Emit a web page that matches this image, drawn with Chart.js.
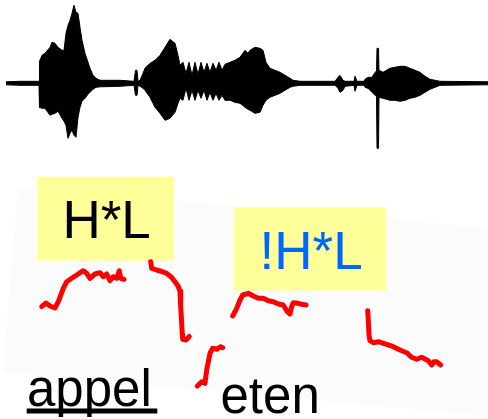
<!DOCTYPE html>
<html>
<head>
<meta charset="utf-8">
<script src="https://cdn.jsdelivr.net/npm/chart.js@4.4.1/dist/chart.umd.min.js"></script>
<style>
html,body{margin:0;padding:0;background:#fff;}
#wrap{width:488px;height:419px;position:relative;}
</style>
</head>
<body>
<div id="wrap"><canvas id="c"></canvas></div>
<script>
// ---- Waveform envelope (time units, amplitude relative to the zero line) ----
const waveTime = [6,20,39,39.5,42,45,50,52,55,58,62,64,66,68,70,72,74,76,78,80,82,85,88,90,93,96,100,120,134,135.5,137,138,140,143,145,150,155,160,165,170,175,178,180,183,186,189,192,195,198,201,204,207,210,213,216,219,222,225,230,235,240,245,248,250,255,260,263,266,270,275,280,285,290,293,300,335,338,340,343,345,354,355,357,364,365,368,372,375,376.5,377,378.5,379,383,390,395,400,405,410,415,420,425,430,435,440,488];
const waveTop  = [1.5,2,2,22,28,30,36,41,40,36,33,33,50,58,63,70,78,71,70,56,43,30,21,15,8,5,3,3,2,13,13,2,3,10,15,20,23,28,36,44,40,28,18,21,10,21,8,21,9,21,11,20,11,20,13,21,13,19,21,23,26,33,30,33,36,35,33,21,15,13,11,8,5,3,2,2,6,8,3,2,2,7,2,2,4,6,6,11,12,35,35,13,11,15,16,17,17,15,13,11,7,4,3,2,1.5];
const waveBottom = [-1.5,-2,-2,-24,-25,-25,-32,-31,-30,-28,-35,-38,-42,-55,-50,-47,-52,-54,-34,-24,-18,-15,-11,-9,-6,-4,-3.5,-3,-2,-12,-12,-2,-3,-5,-7,-14,-24,-30,-37,-35,-29,-20,-15,-17,-5,-17,-7,-17,-7,-15,-7,-17,-9,-17,-10,-17,-12,-17,-17,-19,-20,-24,-26,-27,-30,-29,-22,-17,-14,-12,-10,-7,-4,-3,-2,-2,-5,-9,-7,-3,-2,-8,-2,-2,-4,-5,-9,-12,-13,-65,-65,-14,-15,-17,-17,-18,-17,-15,-14,-12,-9,-6,-4,-2,-1.5];

// ---- Pitch contour segments (time, pitch units) ----
const pitchAppel1 = [[41.7,112.3],[46,116],[50,113],[55,111],[58.3,117.3],[63.3,130.7],[66.7,137.3],[71.7,140.7],[76.7,144],[83.3,148.3],[86.7,145.7],[90,140.7],[95,145],[100,146.3],[103.3,142.3],[106.7,145],[110,138.3],[113.3,142.3],[116.7,140.7],[119.3,148.3],[120.7,140.7],[124,139.7]];
const pitchAppel2 = [[150.7,157.3],[151.7,150.7],[156.7,149],[162,147.5],[166.7,145.7],[171.7,141.5],[175,137.3],[178,133],[180,128],[180.7,112.3],[181.7,95.7],[182.3,84],[182.7,79.7],[186,79],[189.3,82.5]];
const pitchEten1 = [[197.3,33],[201.7,37.3],[205,35.7],[206.7,49],[208.3,57],[210,65.7],[212.7,70.7],[216.7,69.7],[220.7,72.3],[222.7,71.3]];
const pitchEten2 = [[232.7,103],[236.7,110.7],[240,119],[242.7,124],[248.3,125.7],[253.3,123],[258.3,120.7],[263.3,120.7],[268.3,118.3],[273.3,117.3],[278.3,115],[283.3,114],[287.3,107.3],[290,105],[291.7,112.3],[293.3,116.3],[298.3,115.7],[301.7,114.7],[306,114]];
const pitchEten3 = [[367.7,108.3],[368.3,99],[369,84],[370,78.3],[373.3,76.3],[378.3,77.3],[386.7,74.7],[393.3,72.3],[400,69],[406.7,66.3],[411.7,61.7],[416.7,59.7],[421.7,61.7],[428.3,58.3],[431.7,54],[434,57.3],[436.7,57.3],[440.7,54]];

// ---- Labels ----
const toneLabels = ["H*L", "!H*L"];
const wordLabels = ["appel", "eten"];

const toXY = arr => arr.map(p => ({x: p[0], y: p[1]}));
const wavePts = (ys) => waveTime.map((t, i) => ({x: t, y: ys[i]}));

const redLine = (pts) => ({
  data: toXY(pts), yAxisID: 'yp', showLine: true, pointRadius: 0,
  borderColor: '#ff0000', borderWidth: 5, borderCapStyle: 'round', borderJoinStyle: 'round',
  fill: false, tension: 0, order: 1
});

// annotation layout (in data units of x / pitch axes)
const boxes = [
  {x0: 37.3, x1: 174, p0: 242.3, p1: 158.3, text: toneLabels[0], color: '#000000'},
  {x0: 234, x1: 386.3, p0: 211.7, p1: 128.3, text: toneLabels[1], color: '#0066ff'}
];
const words = [
  {x: 27, p: 13.3, text: wordLabels[0], underline: [26.7, 157.3, 5.5]},
  {x: 220.5, p: 6.3, text: wordLabels[1]}
];
const sheet = [[18,232],[488,191],[488,3],[3,47]];

const FONT = "'Liberation Sans', Arial, Helvetica, sans-serif";

const overlay = {
  id: 'overlay',
  beforeDatasetsDraw(chart) {
    const {ctx, scales: {x, yp}} = chart;
    ctx.save();
    ctx.fillStyle = '#fbfbfb';
    ctx.beginPath();
    sheet.forEach((p, i) => {
      const px = x.getPixelForValue(p[0]), py = yp.getPixelForValue(p[1]);
      i ? ctx.lineTo(px, py) : ctx.moveTo(px, py);
    });
    ctx.closePath();
    ctx.fill();
    boxes.forEach(b => {
      const l = x.getPixelForValue(b.x0), r = x.getPixelForValue(b.x1);
      const t = yp.getPixelForValue(b.p0), btm = yp.getPixelForValue(b.p1);
      ctx.fillStyle = '#ffff99';
      ctx.fillRect(l, t, r - l, btm - t);
    });
    ctx.restore();
  },
  afterDatasetsDraw(chart) {
    const {ctx, scales: {x, yp}} = chart;
    ctx.save();
    boxes.forEach(b => {
      const cx = (x.getPixelForValue(b.x0) + x.getPixelForValue(b.x1)) / 2;
      const cy = (yp.getPixelForValue(b.p0) + yp.getPixelForValue(b.p1)) / 2;
      ctx.font = '53px ' + FONT;
      ctx.fillStyle = b.color;
      ctx.textAlign = 'center';
      ctx.textBaseline = 'alphabetic';
      ctx.fillText(b.text, cx + 1, cy + 19.5);
    });
    words.forEach(w => {
      ctx.font = '51px ' + FONT;
      ctx.fillStyle = '#000';
      ctx.textAlign = 'left';
      ctx.textBaseline = 'alphabetic';
      const bx = x.getPixelForValue(w.x), by = yp.getPixelForValue(w.p);
      ctx.fillText(w.text, bx, by);
      if (w.underline) {
        const ul = x.getPixelForValue(w.underline[0]), ur = x.getPixelForValue(w.underline[1]);
        ctx.fillRect(ul, yp.getPixelForValue(w.underline[2]) - 5, ur - ul, 5);
      }
    });
    ctx.restore();
  }
};

new Chart(document.getElementById('c'), {
  type: 'scatter',
  data: {
    datasets: [
      {data: wavePts(waveTop), yAxisID: 'yw', showLine: true, pointRadius: 0, borderColor: '#000', borderWidth: 1, backgroundColor: '#000', fill: '+1', tension: 0, order: 2},
      {data: wavePts(waveBottom), yAxisID: 'yw', showLine: true, pointRadius: 0, borderColor: '#000', borderWidth: 1, fill: false, tension: 0, order: 2},
      redLine(pitchAppel1),
      redLine(pitchAppel2),
      redLine(pitchEten1),
      redLine(pitchEten2),
      redLine(pitchEten3)
    ]
  },
  options: {
    responsive: true,
    maintainAspectRatio: false,
    animation: false,
    layout: {padding: 0},
    plugins: {legend: {display: false}, tooltip: {enabled: false}},
    scales: {
      x: {type: 'linear', min: 0, max: 488, display: false},
      yw: {type: 'linear', min: -335.7, max: 83.3, display: false},
      yp: {type: 'linear', min: 0, max: 419, display: false}
    }
  },
  plugins: [overlay]
});
</script>
</body>
</html>
